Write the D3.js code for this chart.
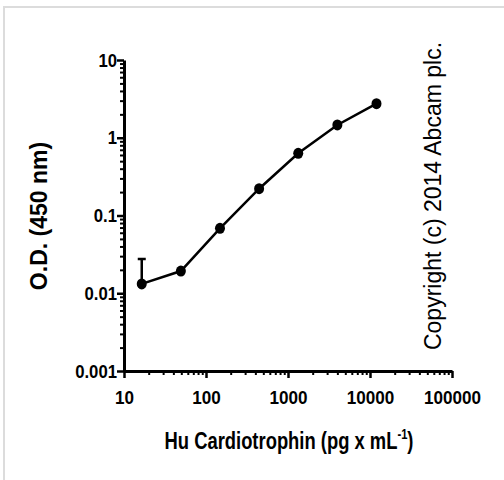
<!DOCTYPE html>
<html>
<head>
<meta charset="utf-8">
<script src="https://cdn.jsdelivr.net/npm/d3@7"></script>
<style>
  body { margin: 0; background: #fff; }
  svg { display: block; }
</style>
</head>
<body>
<div id="chart-area"></div>
<script>
// standard curve, 3-fold dilutions
const concentrations = [16.46, 49.38, 148.1, 444.4, 1333, 4000, 12000];
const odValues = [0.0132, 0.0193, 0.0684, 0.221, 0.631, 1.46, 2.74];
const odErrorTop = [0.0275, null, null, null, null, null, null];
const xTickValues = [10, 100, 1000, 10000, 100000];
const yTickValues = [0.001, 0.01, 0.1, 1, 10];

(() => {
  const margin = { left: 124, top: 60 };
  const width = 328;
  const height = 311;

  const svg = d3.select('#chart-area').append('svg')
    .attr('width', 504)
    .attr('height', 480);

  // light frame around the image
  svg.append('path')
    .attr('d', 'M4,480 V7 H504')
    .attr('fill', 'none')
    .attr('stroke', '#dcdcdc')
    .attr('stroke-width', 2);

  const g = svg.append('g')
    .attr('transform', `translate(${margin.left}, ${margin.top})`);

  const x = d3.scaleLog()
    .domain([10, 100000])
    .range([0, width]);

  const y = d3.scaleLog()
    .domain([0.001, 10])
    .range([height, 0]);

  const font = '"Liberation Sans", Arial, sans-serif';

  // minor ticks 2..9 per decade
  const minorX = [];
  for (let e = 1; e < 5; e++) for (let m = 2; m < 10; m++) minorX.push(m * Math.pow(10, e));
  const minorY = [];
  for (let e = -3; e < 1; e++) for (let m = 2; m < 10; m++) minorY.push(+(m * Math.pow(10, e)).toPrecision(3));

  g.append('g')
    .attr('transform', `translate(0, ${height})`)
    .call(d3.axisBottom(x).tickValues(minorX).tickSize(4).tickFormat(''))
    .call(a => a.select('.domain').remove())
    .selectAll('line').attr('stroke-width', 2);

  g.append('g')
    .call(d3.axisLeft(y).tickValues(minorY).tickSize(4).tickFormat(''))
    .call(a => a.select('.domain').remove())
    .selectAll('line').attr('stroke-width', 2);

  const xAxis = g.append('g')
    .attr('transform', `translate(0, ${height})`)
    .call(d3.axisBottom(x).tickValues(xTickValues).tickSize(7).tickSizeOuter(0).tickPadding(13).tickFormat(d3.format('d')));

  const yAxis = g.append('g')
    .call(d3.axisLeft(y).tickValues(yTickValues).tickSize(7).tickSizeOuter(0).tickPadding(1).tickFormat(d => String(d)));

  [xAxis, yAxis].forEach(a => {
    a.select('.domain').attr('stroke-width', 3);
    a.selectAll('.tick line').attr('stroke-width', 2.5);
    a.selectAll('text')
      .attr('font-family', font)
      .attr('font-weight', 'bold')
      .attr('font-size', 19)
      .attr('fill', '#000');
  });
  xAxis.selectAll('text').attr('transform', 'scale(0.9,1)');
  yAxis.selectAll('text').attr('transform', 'scale(0.88,1)');

  // error bar
  const errs = concentrations.map((c, i) => ({ c, v: odValues[i], top: odErrorTop[i] }))
    .filter(d => d.top != null);
  g.selectAll('.err')
    .data(errs)
    .enter().append('path')
      .attr('class', 'err')
      .attr('d', d => `M${x(d.c)},${y(d.v)} V${y(d.top)} M${x(d.c) - 4},${y(d.top)} H${x(d.c) + 4}`)
      .attr('fill', 'none')
      .attr('stroke', '#000')
      .attr('stroke-width', 2.5);

  const line = d3.line()
    .x((d, i) => x(concentrations[i]))
    .y(d => y(d));

  g.append('path')
    .datum(odValues)
    .attr('d', line)
    .attr('fill', 'none')
    .attr('stroke', '#000')
    .attr('stroke-width', 2.5);

  g.selectAll('.dot')
    .data(odValues)
    .enter().append('ellipse')
      .attr('class', 'dot')
      .attr('cx', (d, i) => x(concentrations[i]))
      .attr('cy', d => y(d))
      .attr('rx', 5)
      .attr('ry', 5.5)
      .attr('fill', '#000');

  // axis titles
  const xTitle = svg.append('text')
    .attr('transform', 'translate(289, 449) scale(0.8, 1)')
    .attr('text-anchor', 'middle')
    .attr('font-family', font)
    .attr('font-weight', 'bold')
    .attr('font-size', 23)
    .attr('fill', '#000');
  xTitle.append('tspan').text('Hu Cardiotrophin (pg x mL');
  xTitle.append('tspan').attr('dy', -10).attr('font-size', 14).text('-1');
  xTitle.append('tspan').attr('dy', 10).text(')');

  svg.append('text')
    .attr('transform', 'translate(47, 216) rotate(-90)')
    .attr('text-anchor', 'middle')
    .attr('font-family', font)
    .attr('font-weight', 'bold')
    .attr('font-size', 23)
    .attr('fill', '#000')
    .text('O.D. (450 nm)');

  svg.append('text')
    .attr('transform', 'translate(441, 196) rotate(-90)')
    .attr('text-anchor', 'middle')
    .attr('font-family', font)
    .attr('font-size', 23)
    .attr('fill', '#000')
    .text('Copyright (c) 2014 Abcam plc.');
})();
</script>
</body>
</html>
